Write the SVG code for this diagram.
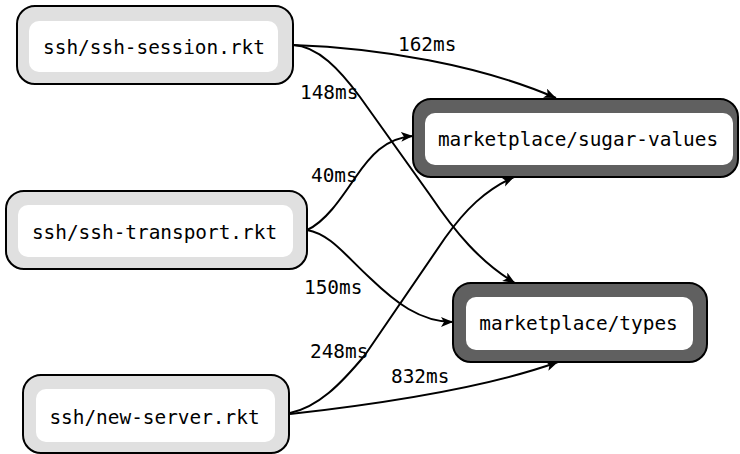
<svg xmlns="http://www.w3.org/2000/svg" width="740" height="454" viewBox="0 0 740 454">
<style>
.outer{stroke:#000;stroke-width:2}
.src{fill:#e0e0e0}
.dst{fill:#606060}
.inner{fill:#fff;stroke:none}
text{font-family:"DejaVu Sans Mono","Liberation Mono",monospace;font-size:19.4px;fill:#000}
.nl{text-anchor:middle}
.edge{fill:none;stroke:#000;stroke-width:2}
</style>
<defs>
<marker id="arr" markerUnits="userSpaceOnUse" markerWidth="14" markerHeight="12" refX="12" refY="5" orient="auto">
<path d="M0,0 L12,5 L0,10 L3,5 z" fill="#000"/>
</marker>
</defs>
<g id="connectors">
<path class="edge" marker-end="url(#arr)" d="M293,45 C380,48 480,65 556,98"/>
<path class="edge" marker-end="url(#arr)" d="M293,45 C318,46 340,70 360,97 L430,195 C455,232 480,262 515,283"/>
<path class="edge" marker-end="url(#arr)" d="M307,230 C325,222 340,200 355,178 C370,156 385,138 413,136"/>
<path class="edge" marker-end="url(#arr)" d="M307,230 C330,234 345,255 370,278 C395,302 420,322 453,322"/>
<path class="edge" marker-end="url(#arr)" d="M290,413 C318,407 340,385 365,355 L445,238 C465,210 485,190 514,177"/>
<path class="edge" marker-end="url(#arr)" d="M290,414 C370,405 480,390 558,362"/>
<text x="398" y="51">162ms</text>
<text x="300" y="99">148ms</text>
<text x="311" y="182">40ms</text>
<text x="304" y="294">150ms</text>
<text x="310" y="358">248ms</text>
<text x="391" y="383">832ms</text>
</g>
<g id="node-ssh-session">
<rect class="outer src" x="17" y="6" width="276" height="78" rx="18"/>
<rect class="inner" x="29" y="21" width="249" height="51" rx="10"/>
<text class="nl" x="154" y="54">ssh/ssh-session.rkt</text>
</g>
<g id="node-ssh-transport">
<rect class="outer src" x="6" y="191" width="301" height="78" rx="18"/>
<rect class="inner" x="18" y="205" width="275" height="52" rx="10"/>
<text class="nl" x="154.5" y="239">ssh/ssh-transport.rkt</text>
</g>
<g id="node-new-server">
<rect class="outer src" x="23" y="375" width="266" height="78" rx="18"/>
<rect class="inner" x="36" y="389" width="239" height="53" rx="10"/>
<text class="nl" x="154.5" y="424">ssh/new-server.rkt</text>
</g>
<g id="node-sugar-values">
<rect class="outer dst" x="413" y="99" width="325" height="78" rx="18"/>
<rect class="inner" x="425" y="113" width="308" height="52" rx="10"/>
<text class="nl" x="578" y="146">marketplace/sugar-values</text>
</g>
<g id="node-types">
<rect class="outer dst" x="453" y="283" width="254" height="79" rx="18"/>
<rect class="inner" x="466" y="297" width="227" height="53" rx="10"/>
<text class="nl" x="578.5" y="330">marketplace/types</text>
</g>
</svg>
